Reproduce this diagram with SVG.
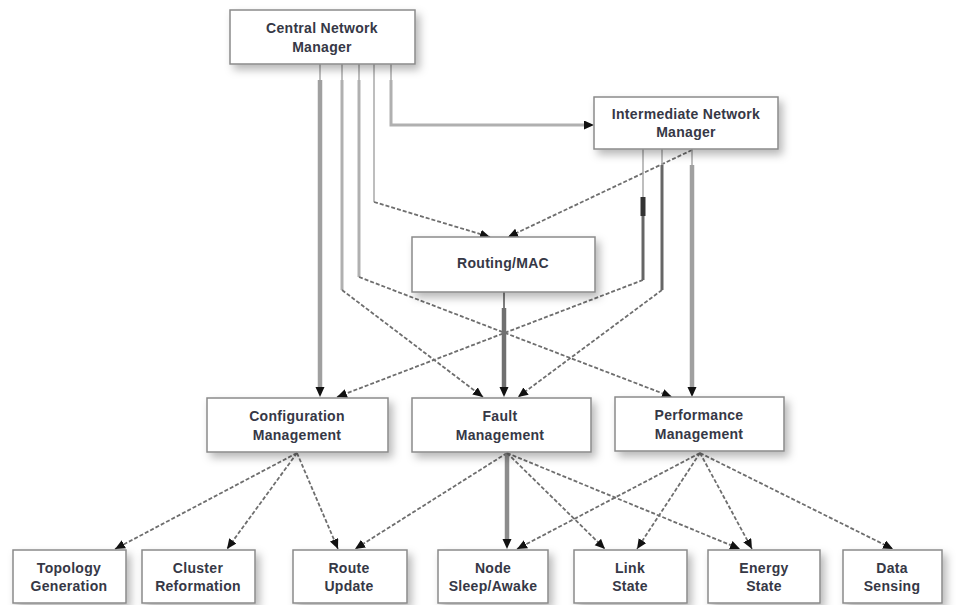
<svg xmlns="http://www.w3.org/2000/svg" width="957" height="605" viewBox="0 0 957 605">
<style>
.box{fill:#ffffff;stroke:#8a8a8a;stroke-width:1.5;filter:url(#sh)}
.lbl{font-family:"Liberation Sans",Arial,sans-serif;font-size:14px;font-weight:bold;fill:#363846;text-anchor:middle;letter-spacing:0.3px}
.dash{fill:none;stroke:#6e6e6e;stroke-width:1.8;stroke-dasharray:4 2;marker-end:url(#arr)}
.thin{fill:none;stroke:#a8a8a8;stroke-width:1.5}
.mid{fill:none;stroke:#b0b0b0;stroke-width:3}
.thick{fill:none;stroke:#a0a0a0;stroke-width:4.5;marker-end:url(#arrT)}
.dark{fill:none;stroke:#666;stroke-width:3}
</style>
<defs>
<filter id="sh" x="-10%" y="-20%" width="130%" height="160%">
<feDropShadow dx="4" dy="5" stdDeviation="4" flood-color="#000" flood-opacity="0.28"/>
</filter>
<marker id="arr" markerUnits="userSpaceOnUse" markerWidth="12" markerHeight="10" refX="10" refY="4.5" orient="auto">
<path d="M0,0 L10,4.5 L0,9 z" fill="#111"/>
</marker>
<marker id="arrT" markerUnits="userSpaceOnUse" markerWidth="12" markerHeight="10" refX="2" refY="4.5" orient="auto">
<path d="M0,0 L10,4.5 L0,9 z" fill="#111"/>
</marker>
</defs>
<rect width="957" height="605" fill="#ffffff"/>

<g id="connectors">
<!-- Central to Configuration -->
<path class="thin" d="M320,64 V80"/>
<path class="thick" d="M320,80 V389"/>
<!-- Central to Fault -->
<path class="thin" d="M342,64 V80"/>
<path class="mid" d="M342,80 V290"/>
<path class="dash" d="M342,290 L483,397"/>
<!-- Central to Performance -->
<path class="thin" d="M359,64 V80"/>
<path class="mid" d="M359,80 V277"/>
<path class="dash" d="M359,277 L672,397"/>
<!-- Central to Routing/MAC -->
<path class="thin" d="M374,64 V202"/>
<path class="dash" d="M374,202 L490,237"/>
<!-- Central to Intermediate -->
<path class="thin" d="M391,64 V80"/>
<path class="mid" d="M391,80 V125 H586" style="marker-end:url(#arrT)"/>
<!-- Intermediate to Routing/MAC -->
<path class="dash" d="M692,150 L508,237"/>
<!-- Intermediate to Configuration -->
<path class="thin" d="M643,149 V197"/>
<path fill="none" stroke="#333" stroke-width="5" d="M643,197 V216"/>
<path class="dark" d="M643,216 V280"/>
<path class="dash" d="M643,280 L337,397"/>
<!-- Intermediate to Fault -->
<path class="thin" d="M662,149 V165"/>
<path class="dark" d="M662,165 V290"/>
<path class="dash" d="M662,290 L518,397"/>
<!-- Intermediate to Performance -->
<path class="thin" d="M692,149 V165"/>
<path class="thick" d="M692,165 V389"/>
<!-- Routing/MAC to Fault -->
<path fill="none" stroke="#555" stroke-width="1.5" d="M504,292 V308"/>
<path class="thick" style="stroke:#707070" d="M504,308 V389"/>

<!-- Configuration fan -->
<path class="dash" d="M297,453 L115,549"/>
<path class="dash" d="M297,453 L227,549"/>
<path class="dash" d="M297,453 L338,549"/>
<!-- Fault fan -->
<path class="dash" d="M507,453 L355,549"/>
<path class="thick" style="stroke:#8c8c8c" d="M507,453 V541"/>
<path class="dash" d="M507,453 L605,549"/>
<path class="dash" d="M507,453 L740,549"/>
<!-- Performance fan -->
<path class="dash" d="M700,453 L517,549"/>
<path class="dash" d="M700,453 L637,549"/>
<path class="dash" d="M700,453 L752,549"/>
<path class="dash" d="M700,453 L893,549"/>
</g>

<g id="central">
<rect class="box" x="230" y="10" width="185" height="54"/>
<text class="lbl" x="322" y="33">Central Network</text>
<text class="lbl" x="322" y="52">Manager</text>
</g>
<g id="intermediate">
<rect class="box" x="594" y="97" width="184" height="52"/>
<text class="lbl" x="686" y="119">Intermediate Network</text>
<text class="lbl" x="686" y="137">Manager</text>
</g>
<g id="routing">
<rect class="box" x="412" y="237" width="183" height="55"/>
<text class="lbl" x="503" y="268">Routing/MAC</text>
</g>
<g id="configuration">
<rect class="box" x="207" y="398" width="181" height="54"/>
<text class="lbl" x="297" y="421">Configuration</text>
<text class="lbl" x="297" y="440">Management</text>
</g>
<g id="fault">
<rect class="box" x="412" y="398" width="179" height="54"/>
<text class="lbl" x="500" y="421">Fault</text>
<text class="lbl" x="500" y="440">Management</text>
</g>
<g id="performance">
<rect class="box" x="615" y="397" width="169" height="54"/>
<text class="lbl" x="699" y="420">Performance</text>
<text class="lbl" x="699" y="439">Management</text>
</g>
<g id="topology">
<rect class="box" x="13" y="550" width="113" height="53"/>
<text class="lbl" x="69" y="573">Topology</text>
<text class="lbl" x="69" y="591">Generation</text>
</g>
<g id="cluster">
<rect class="box" x="142" y="550" width="113" height="53"/>
<text class="lbl" x="198" y="573">Cluster</text>
<text class="lbl" x="198" y="591">Reformation</text>
</g>
<g id="route">
<rect class="box" x="293" y="550" width="114" height="53"/>
<text class="lbl" x="349" y="573">Route</text>
<text class="lbl" x="349" y="591">Update</text>
</g>
<g id="node">
<rect class="box" x="438" y="550" width="110" height="53"/>
<text class="lbl" x="493" y="573">Node</text>
<text class="lbl" x="493" y="591">Sleep/Awake</text>
</g>
<g id="link">
<rect class="box" x="574" y="550" width="113" height="53"/>
<text class="lbl" x="630" y="573">Link</text>
<text class="lbl" x="630" y="591">State</text>
</g>
<g id="energy">
<rect class="box" x="708" y="550" width="112" height="53"/>
<text class="lbl" x="764" y="573">Energy</text>
<text class="lbl" x="764" y="591">State</text>
</g>
<g id="data">
<rect class="box" x="843" y="550" width="99" height="53"/>
<text class="lbl" x="892" y="573">Data</text>
<text class="lbl" x="892" y="591">Sensing</text>
</g>
</svg>
